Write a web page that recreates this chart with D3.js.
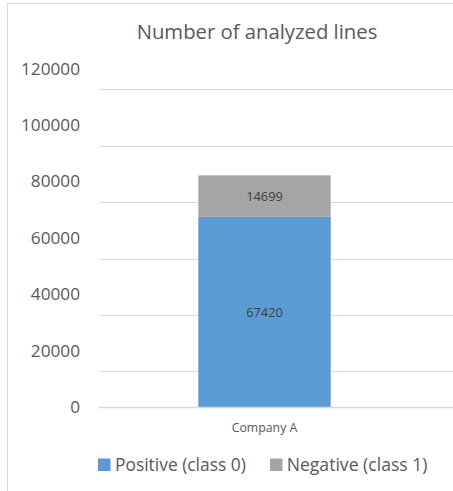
<!DOCTYPE html>
<html>
<head>
<meta charset="utf-8">
<script src="https://cdn.jsdelivr.net/npm/d3@7"></script>
<style>
  html, body { margin: 0; padding: 0; background: #fff; }
  svg { display: block; font-family: "Open Sans", Lato, sans-serif; }
</style>
</head>
<body>
<svg id="chart" width="453" height="491"></svg>
<script>
// Stacked column: analysed lines per company, split by class
const categories = ["Company A"];
const positive = [67420];   // class 0
const negative = [14699];   // class 1
const seriesNames = ["Positive (class 0)", "Negative (class 1)"];
const seriesColors = ["#5B9BD5", "#A5A5A5"];
const yTicks = [0, 20000, 40000, 60000, 80000, 100000, 120000];
const title = "Number of analyzed lines";

const svg = d3.select("#chart");
const W = 453, H = 491;
const FONT = "'Open Sans', Lato, sans-serif";

// chart frame
svg.append("rect").attr("x", 7.5).attr("y", 3.5).attr("width", W).attr("height", H)
  .attr("fill", "#fff").attr("stroke", "#D9D9D9").attr("stroke-width", 1);

const plot = { left: 99, right: 453, top: 68.5, bottom: 407 };

const y = d3.scaleLinear().domain([0, 120000]).range([plot.bottom, plot.top]);
const x = d3.scaleBand().domain(categories).range([plot.left, 430])
  .paddingInner(0.4286).paddingOuter(0.4286);

// horizontal grid rules, drawn a little below each tick value
const gridShift = 20.8;
svg.append("g").selectAll("line").data(yTicks.filter(v => v > 0)).join("line")
  .attr("x1", plot.left).attr("x2", plot.right)
  .attr("y1", d => Math.round(y(d) + gridShift) + 0.5)
  .attr("y2", d => Math.round(y(d) + gridShift) + 0.5)
  .attr("stroke", "#D9D9D9").attr("stroke-width", 1.2);

// value axis labels
const yAxis = d3.axisLeft(y).tickValues(yTicks).tickSize(0).tickPadding(0).tickFormat(d3.format("d"));
const yg = svg.append("g").attr("transform", `translate(80,0)`).call(yAxis);
yg.select(".domain").remove();
yg.selectAll("text").attr("fill", "#595959").attr("font-size", 17.2).attr("font-family", FONT);

// stacked bars
const rows = categories.map((c, i) => ({ cat: c, pos: positive[i], neg: negative[i] }));
const stack = d3.stack().keys(["pos", "neg"])(rows);
const layers = svg.append("g").selectAll("g").data(stack).join("g")
  .attr("fill", (d, i) => seriesColors[i]);
layers.selectAll("rect").data(d => d).join("rect")
  .attr("x", d => x(d.data.cat))
  .attr("width", x.bandwidth())
  .attr("y", d => y(d[1]))
  .attr("height", d => y(d[0]) - y(d[1]));

// segment value labels
layers.selectAll("text").data((d) => d.map(p => ({ p, key: d.key }))).join("text")
  .attr("x", d => x(d.p.data.cat) + x.bandwidth() / 2)
  .attr("y", d => (y(d.p[0]) + y(d.p[1])) / 2)
  .attr("dy", "0.36em")
  .attr("text-anchor", "middle")
  .attr("fill", "#404040").attr("font-size", 12.8)
  .text(d => d.p.data[d.key]);

// baseline
svg.append("line").attr("x1", plot.left).attr("x2", plot.right)
  .attr("y1", Math.round(y(0)) + 0.5).attr("y2", Math.round(y(0)) + 0.5)
  .attr("stroke", "#D9D9D9").attr("stroke-width", 1.4);

// category axis
const xAxis = d3.axisBottom(x).tickSize(0).tickPadding(0);
const xg = svg.append("g").attr("transform", `translate(0,${y(0) + 16})`).call(xAxis);
xg.select(".domain").remove();
xg.selectAll("text").attr("fill", "#595959").attr("font-size", 12.3).attr("font-family", FONT);

// title
svg.append("text").attr("x", 257).attr("y", 39).attr("text-anchor", "middle")
  .attr("fill", "#595959").attr("font-size", 20.3)
  .text(title);

// legend
const legendX = [98, 270];
const lg = svg.append("g").selectAll("g").data(seriesNames).join("g")
  .attr("transform", (d, i) => `translate(${legendX[i]},0)`);
lg.append("rect").attr("x", 0).attr("y", 458.5).attr("width", 12.5).attr("height", 12.5)
  .attr("fill", (d, i) => seriesColors[i]);
lg.append("text").attr("x", (d, i) => i === 0 ? 17 : 16.7).attr("y", 470.8)
  .attr("fill", "#595959").attr("font-size", (d, i) => i === 0 ? 17.4 : 17.6)
  .text(d => d);
</script>
</body>
</html>
